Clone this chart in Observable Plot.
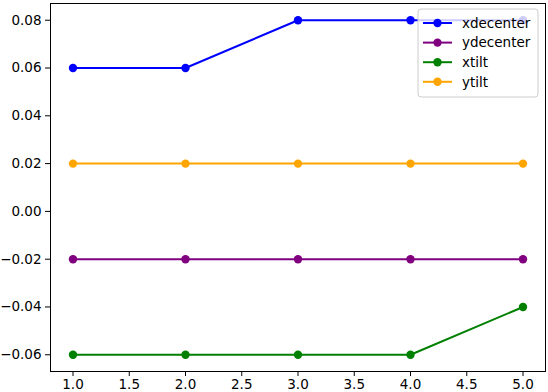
<!DOCTYPE html>
<html>
<head>
<meta charset="utf-8">
<script src="https://cdn.jsdelivr.net/npm/d3@7"></script>
<script src="https://cdn.jsdelivr.net/npm/@observablehq/plot@0.6"></script>
<style>
  html, body { margin: 0; padding: 0; background: #fff; }
  #chart svg { display: block; }
</style>
</head>
<body>
<div id="chart"></div>
<script>
const steps = [1, 2, 3, 4, 5];
const xdecenter = [0.06, 0.06, 0.08, 0.08, 0.08];
const ydecenter = [-0.02, -0.02, -0.02, -0.02, -0.02];
const xtilt = [-0.06, -0.06, -0.06, -0.06, -0.04];
const ytilt = [0.02, 0.02, 0.02, 0.02, 0.02];
const seriesNames = ["xdecenter", "ydecenter", "xtilt", "ytilt"];
const seriesColors = ["blue", "purple", "green", "orange"];
const xTicks = [1.0, 1.5, 2.0, 2.5, 3.0, 3.5, 4.0, 4.5, 5.0];
const yTicks = [-0.06, -0.04, -0.02, 0.00, 0.02, 0.04, 0.06, 0.08];

const seriesValues = [xdecenter, ydecenter, xtilt, ytilt];
const data = seriesNames.flatMap((name, i) =>
  steps.map((s, j) => ({series: name, x: s, y: seriesValues[i][j]})));

const FS = 13.5;
const W = 548, H = 392;
const chart = Plot.plot({
  width: W,
  height: H,
  marginLeft: 50,
  marginRight: 3,
  marginTop: 3,
  marginBottom: 21,
  style: {fontFamily: "DejaVu Sans", fontSize: FS + "px", color: "black", background: "white"},
  x: {domain: [0.8, 5.2]},
  y: {domain: [-0.067, 0.087]},
  color: {domain: seriesNames, range: seriesColors},
  marks: [
    Plot.axisX({ticks: xTicks, tickFormat: d3.format(".1f"), label: null, tickSize: 5, tickPadding: 3, fontSize: FS, fontFamily: "DejaVu Sans"}),
    Plot.axisY({ticks: yTicks, tickFormat: d3.format(".2f"), label: null, tickSize: 5, tickPadding: 4, fontSize: FS, fontFamily: "DejaVu Sans"}),
    Plot.line(data, {x: "x", y: "y", z: "series", stroke: "series", strokeWidth: 2}),
    Plot.dot(data, {x: "x", y: "y", fill: "series", r: 4.2, stroke: "none"}),
    Plot.frame({stroke: "black", strokeWidth: 1})
  ]
});
document.getElementById("chart").appendChild(chart);

// legend (matplotlib style, upper right inside the axes)
const svg = d3.select(chart);
const lg = svg.append("g").attr("font-family", "DejaVu Sans").attr("font-size", FS + "px")
  .attr("text-anchor", "start");
const lx = 418, ly = 9, lw = 120, lh = 88;
lg.append("rect").attr("x", lx).attr("y", ly).attr("width", lw).attr("height", lh)
  .attr("rx", 3).attr("fill", "white").attr("fill-opacity", 0.8)
  .attr("stroke", "#cccccc").attr("stroke-width", 1);
seriesNames.forEach((name, i) => {
  const cy = 23 + i * 19.6;
  lg.append("line").attr("x1", lx + 5).attr("x2", lx + 34).attr("y1", cy).attr("y2", cy)
    .attr("stroke", seriesColors[i]).attr("stroke-width", 2);
  lg.append("circle").attr("cx", lx + 19.5).attr("cy", cy).attr("r", 4.2).attr("fill", seriesColors[i]);
  lg.append("text").attr("x", lx + 44).attr("y", cy).attr("dy", "0.35em")
    .attr("fill", "black").attr("text-anchor", "start").text(name);
});
</script>
</body>
</html>
